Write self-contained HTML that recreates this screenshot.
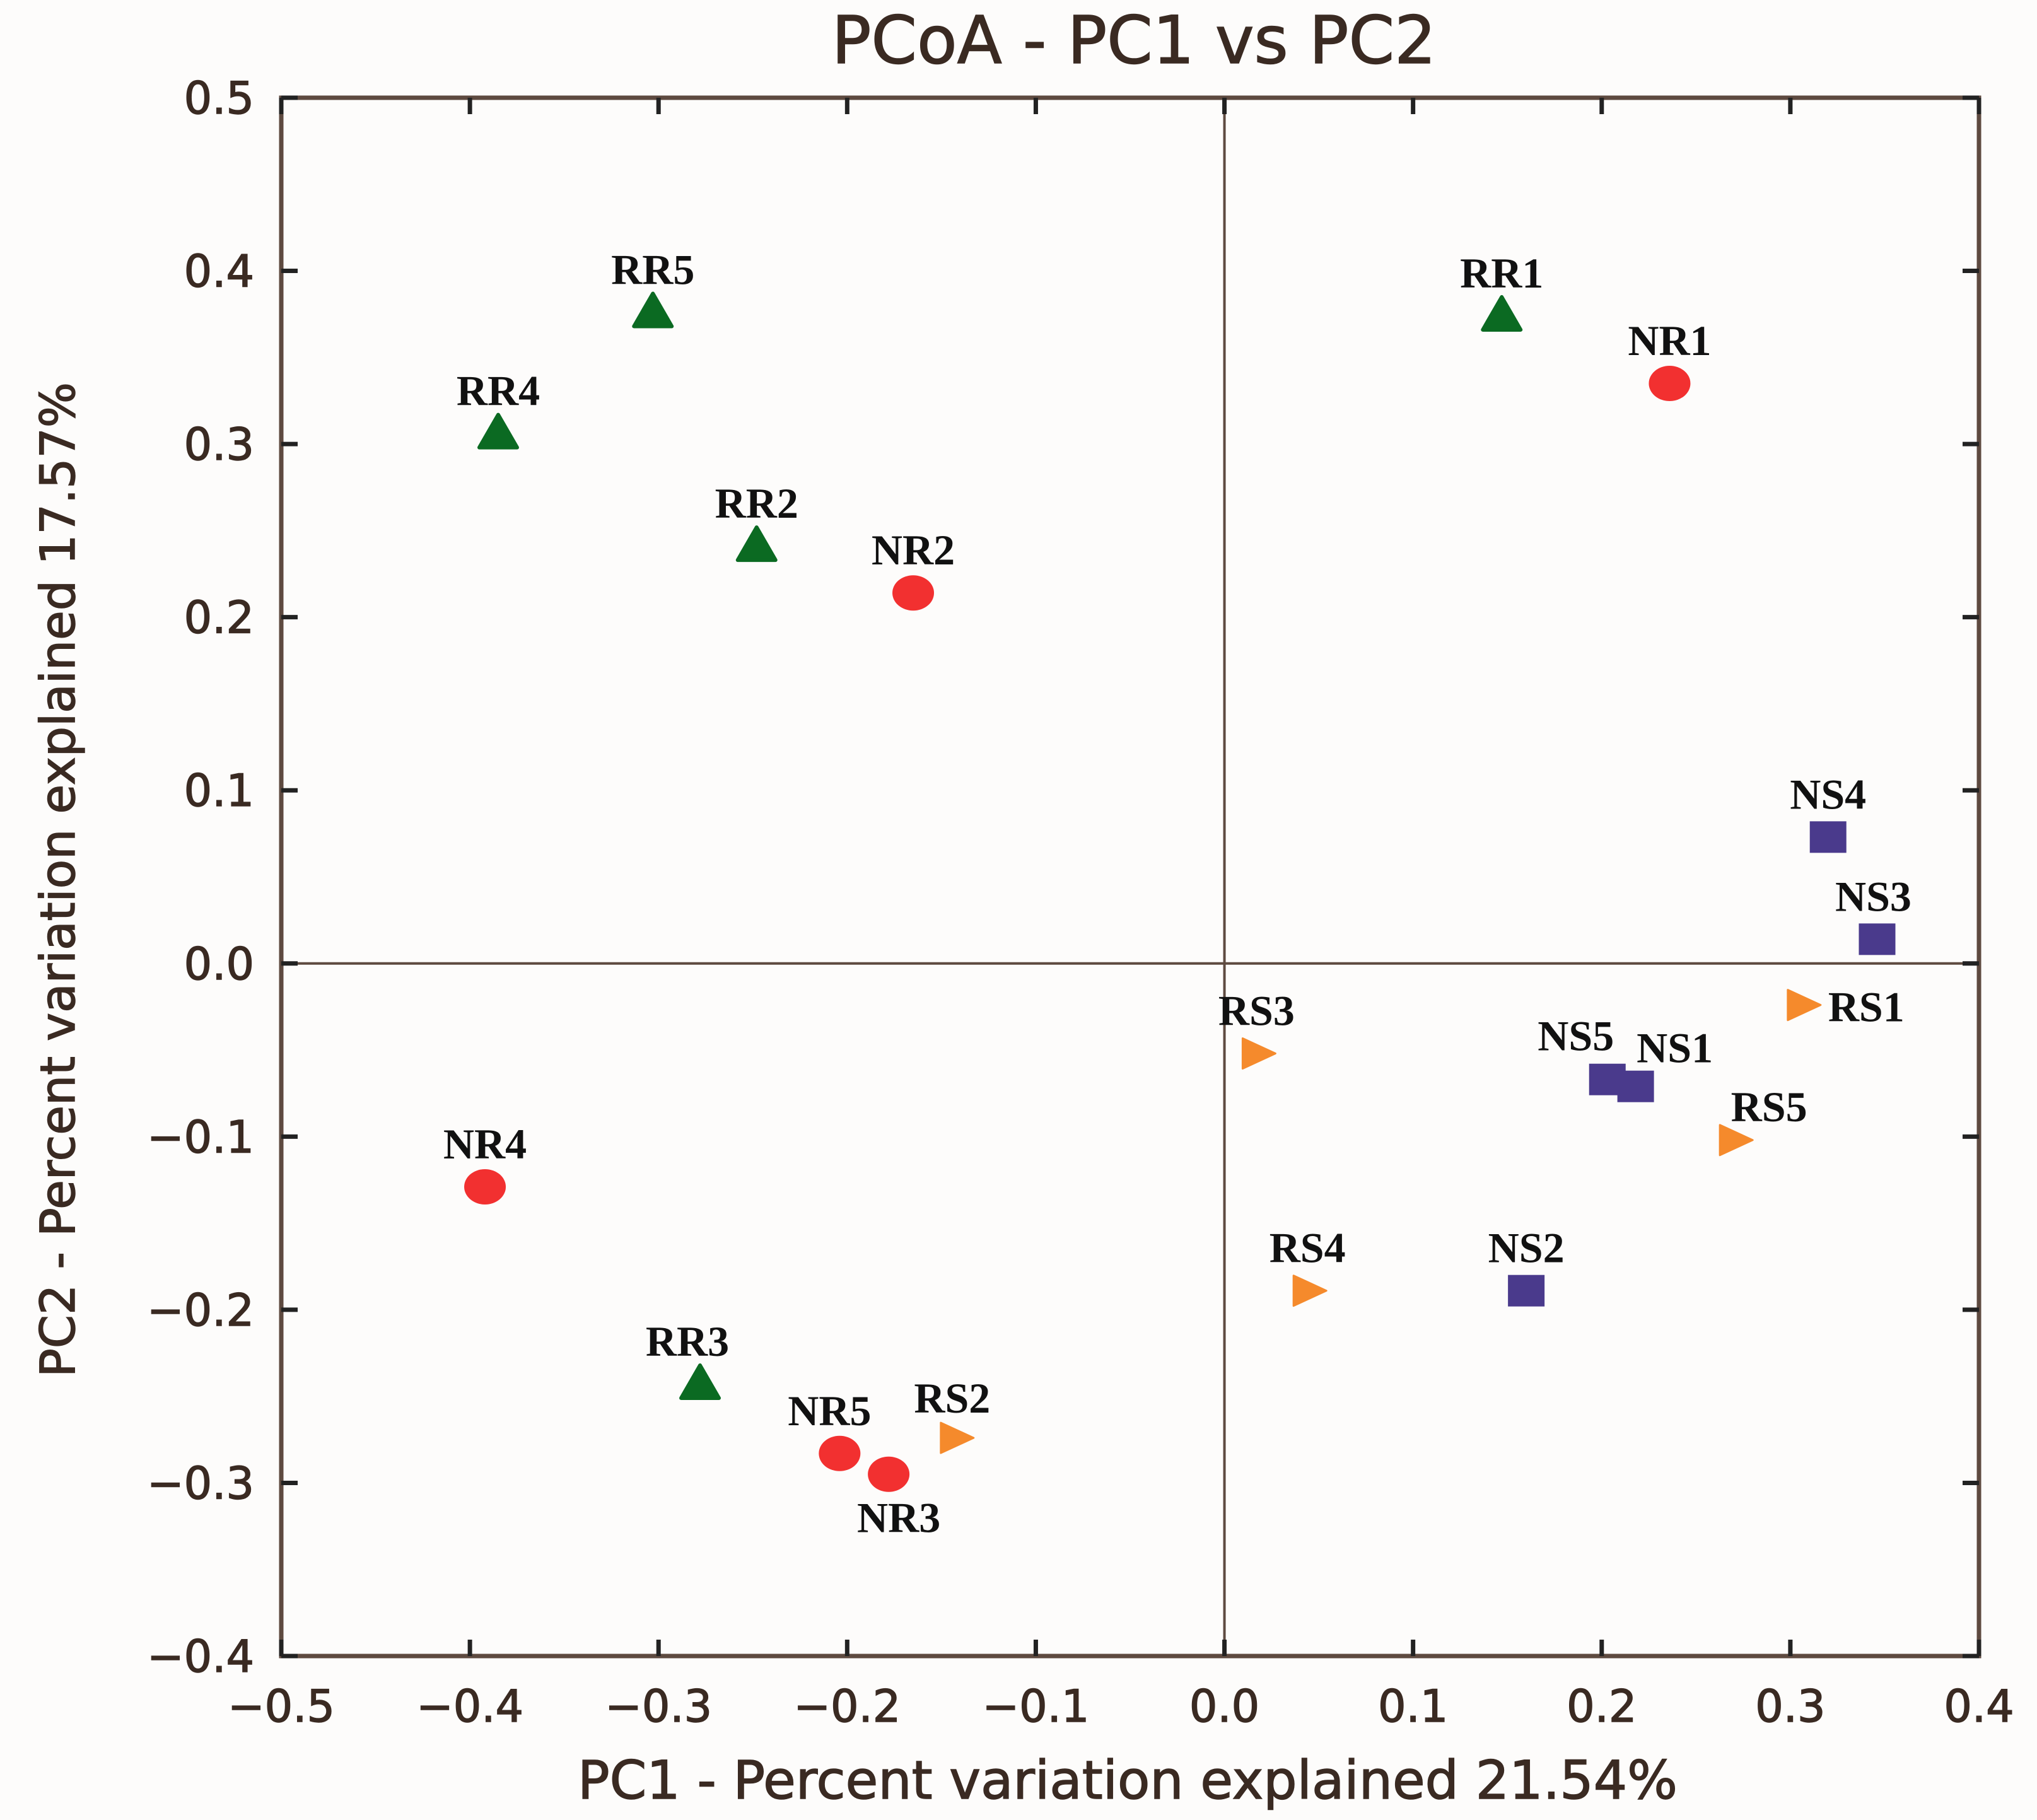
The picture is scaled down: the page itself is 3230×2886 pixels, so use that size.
<!DOCTYPE html>
<html><head><meta charset="utf-8"><style>
html,body{margin:0;padding:0;background:#fdfcfb;}
svg{display:block;}
</style></head><body>
<svg id="chart" width="3230" height="2886" viewBox="0 0 3230 2886" xmlns="http://www.w3.org/2000/svg">
<rect x="0" y="0" width="3230" height="2886" fill="#fdfcfb"/>
<text x="1798" y="100" font-family="DejaVu Sans, sans-serif" font-size="104" fill="#3a2a22" stroke="#3a2a22" stroke-width="1.5" text-anchor="middle">PCoA - PC1 vs PC2</text>
<text x="1788" y="2852" font-family="DejaVu Sans, sans-serif" font-size="84" fill="#3a2a22" stroke="#3a2a22" stroke-width="1.5" text-anchor="middle">PC1 - Percent variation explained 21.54%</text>
<text transform="translate(118,1395) rotate(-90)" font-family="DejaVu Sans, sans-serif" font-size="76" fill="#3a2a22" stroke="#3a2a22" stroke-width="1.5" text-anchor="middle">PC2 - Percent variation explained 17.57%</text>
<g id="axes"></g>
<g id="marks"></g>
</svg>
<script>
const sampleNames = ['RR5','RR4','RR2','NR2','RR1','NR1','NS4','NS3','RS1','RS3','NS5','NS1','RS5','NR4','RS4','NS2','RR3','RS2','NR5','NR3'];
const pc1Values = [-0.303,-0.385,-0.248,-0.165,0.147,0.236,0.320,0.346,0.306,0.017,0.203,0.218,0.270,-0.392,0.044,0.160,-0.278,-0.143,-0.204,-0.178];
const pc2Values = [0.376,0.306,0.241,0.214,0.374,0.335,0.073,0.014,-0.024,-0.052,-0.067,-0.071,-0.102,-0.129,-0.189,-0.189,-0.243,-0.274,-0.283,-0.295];
const xTickLabels = ['\u22120.5','\u22120.4','\u22120.3','\u22120.2','\u22120.1','0.0','0.1','0.2','0.3','0.4'];
const xTickValues = [-0.5,-0.4,-0.3,-0.2,-0.1,0.0,0.1,0.2,0.3,0.4];
const yTickLabels = ['0.5','0.4','0.3','0.2','0.1','0.0','\u22120.1','\u22120.2','\u22120.3','\u22120.4'];
const yTickValues = [0.5,0.4,0.3,0.2,0.1,0.0,-0.1,-0.2,-0.3,-0.4];

const NS='http://www.w3.org/2000/svg';
const L=446,R=3138,T=155,B=2626;
const xMin=-0.5,xMax=0.4,yMin=-0.4,yMax=0.5;
function xs(v){return L+(v-xMin)/(xMax-xMin)*(R-L);}
function ys(v){return B-(v-yMin)/(yMax-yMin)*(B-T);}
const axisColor='#5e4a40', textColor='#3a2a22';
function mk(tag,attrs,parent){const e=document.createElementNS(NS,tag);for(const k in attrs)e.setAttribute(k,attrs[k]);parent.appendChild(e);return e;}
const axes=document.getElementById('axes');
const marks=document.getElementById('marks');

let zl=mk('line',{x1:xs(0),x2:xs(0),y1:T,y2:B,stroke:axisColor,'stroke-width':4},axes);


let zl2=mk('line',{x1:L,x2:R,y1:ys(0),y2:ys(0),stroke:axisColor,'stroke-width':4},axes);


let fr=mk('rect',{x:L,y:T,width:R-L,height:B-T,fill:'none',stroke:axisColor,'stroke-width':7},axes);



xTickValues.forEach((v,i)=>{
  const x=xs(v);
  const t1=mk('line',{x1:x,x2:x,y1:B,y2:B-26,stroke:'#222','stroke-width':7},axes);
  
  
  mk('line',{x1:x,x2:x,y1:T,y2:T+26,stroke:'#222','stroke-width':7},axes);
  const tx=mk('text',{x:x,y:2730,'font-family':'DejaVu Sans, sans-serif','font-size':70,fill:textColor,stroke:textColor,'stroke-width':1.5,'text-anchor':'middle'},axes);
  tx.textContent=xTickLabels[i];
  
  
});
yTickValues.forEach((v,i)=>{
  const y=ys(v);
  const t1=mk('line',{x1:L,x2:L+26,y1:y,y2:y,stroke:'#222','stroke-width':7},axes);
  
  
  mk('line',{x1:R,x2:R-26,y1:y,y2:y,stroke:'#222','stroke-width':7},axes);
  const tx=mk('text',{x:403,y:y+25,'font-family':'DejaVu Sans, sans-serif','font-size':70,fill:textColor,stroke:textColor,'stroke-width':1.5,'text-anchor':'end'},axes);
  tx.textContent=yTickLabels[i];
  
  
});

const labelOffsets={RS1:[42,26,'start'],NR3:[16,92,'middle'],NS1:[62,-38,'middle'],NS5:[-50,-46,'middle'],RS5:[56,-30,'middle'],RS2:[-4,-40,'middle'],RR3:[-20,-45,'middle'],NR5:[-16,-45,'middle'],NS3:[-6,-45,'middle']};
sampleNames.forEach((n,i)=>{
  const x=xs(pc1Values[i]), y=ys(pc2Values[i]);
  const grp=n.slice(0,2);
  let m;
  if(grp==='NR'){
    m=mk('ellipse',{cx:x,cy:y,rx:33,ry:28,fill:'#f23030'},marks);
  } else if(grp==='RR'){
    m=mk('polygon',{points:`${x},${y-30} ${x-30},${y+22} ${x+30},${y+22}`,fill:'#0b6a22',stroke:'#0b6a22','stroke-width':6,'stroke-linejoin':'round'},marks);
  } else if(grp==='NS'){
    m=mk('rect',{x:x-29,y:y-25,width:58,height:50,fill:'#4a3a8c'},marks);
  } else {
    m=mk('polygon',{points:`${x-22},${y-24} ${x+30},${y} ${x-22},${y+24}`,fill:'#f58a2c',stroke:'#f58a2c','stroke-width':3,'stroke-linejoin':'round'},marks);
  }
  
  
  const o=labelOffsets[n]||[0,-45,'middle'];
  const t=mk('text',{x:x+o[0],y:y+o[1],'font-family':'Liberation Serif, serif','font-size':68,'font-weight':'bold',fill:'#111','text-anchor':o[2]},marks);
  t.textContent=n;
  
  
});
</script>
</body></html>
